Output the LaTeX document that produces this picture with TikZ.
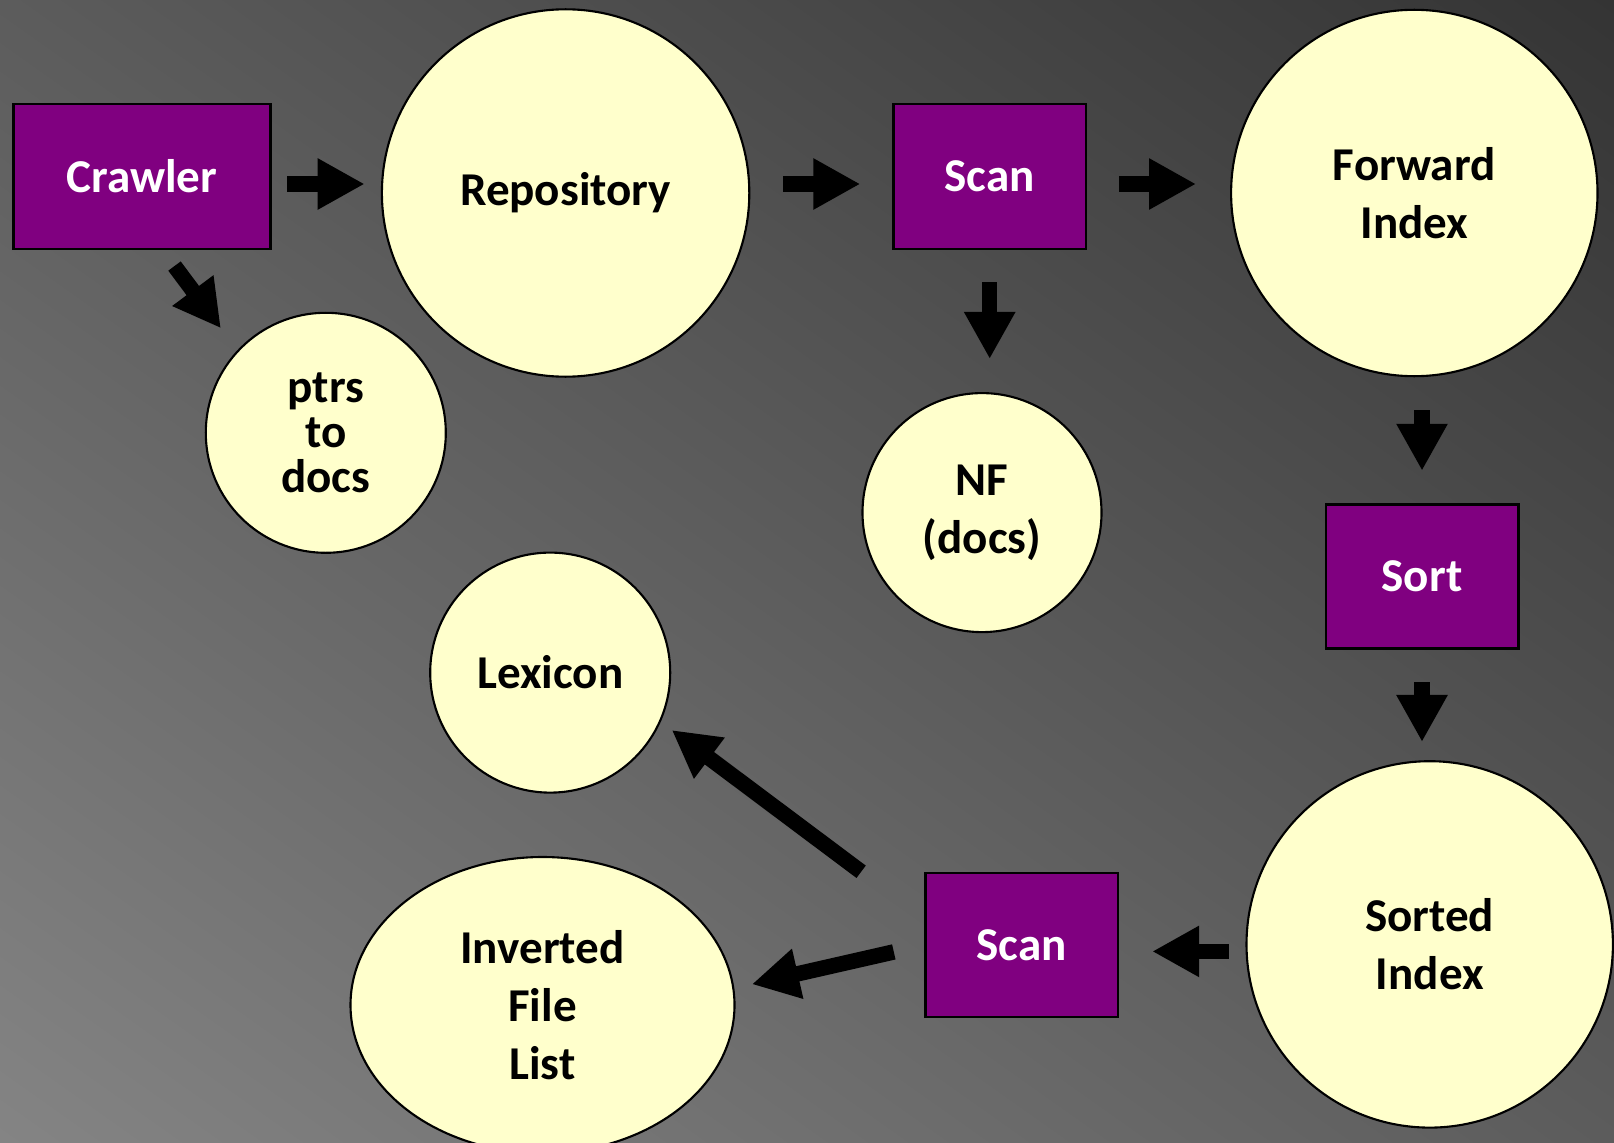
\documentclass[tikz,border=0pt]{standalone}
\usepackage{fontspec}
\setmainfont{Carlito}
\usetikzlibrary{shapes.geometric,arrows.meta,shadings}
\definecolor{boxpurple}{RGB}{128,0,128}
\definecolor{storeyellow}{RGB}{255,255,204}
\definecolor{bgdark}{RGB}{52,52,52}
\definecolor{bgmid}{RGB}{92,92,92}
\definecolor{bglight}{RGB}{132,132,132}

\begin{document}
\begin{tikzpicture}[
	every node/.style={font=\bfseries\fontsize{13.4}{16.4}\selectfont, align=center, inner sep=0pt},
	proc/.style={rectangle, draw=black, line width=0.7pt, fill=boxpurple, text=white, minimum height=1.45cm},
	store/.style={circle, draw=black, line width=0.6pt, fill=storeyellow},
	flow/.style={line width=0.155cm, -{Triangle[width=0.48cm, length=0.47cm]}}
]
	\useasboundingbox (0, 0) rectangle (16.14, 11.42);
	\shade[shading=bilinear interpolation, upper left=bgmid, upper right=bgdark, lower left=bglight, lower right=bgmid] (0, 0) rectangle (16.14, 11.42);
	\clip (0, 0) rectangle (16.14, 11.42);

	\node[proc, minimum width=2.57cm] at (1.42, 9.654) (crawler) {Crawler};
	\node[store, minimum size=3.674cm] at (5.656, 9.49) (repo) {Repository};
	\node[proc, minimum width=1.925cm] at (9.897, 9.654) (scanA) {Scan};
	\node[store, minimum size=3.664cm] at (14.143, 9.49) (fwd) {Forward\\Index};

	\node[store, minimum size=2.4cm, font=\bfseries\fontsize{13.4}{12.9}\selectfont] at (3.258, 7.092) (ptrs) {ptrs\\to\\docs};
	\node[store, minimum size=2.39cm] at (9.82, 6.294) (nf) {NF\\(docs)};
	\node[proc, minimum width=1.925cm, minimum height=1.44cm] at (14.22, 5.656) (sort) {Sort};

	\node[store, minimum size=2.4cm] at (5.502, 4.694) (lexicon) {Lexicon};
	\node[store, minimum size=3.664cm] at (14.297, 1.976) (sorted) {Sorted\\Index};
	\node[proc, minimum width=1.925cm, minimum height=1.44cm] at (10.216, 1.97) (scanB) {Scan};
	\node[store, ellipse, minimum width=3.84cm, minimum height=2.96cm] at (5.425, 1.37) (inverted) {Inverted\\File\\List};

	\draw[flow, shorten <=0.155cm, shorten >=0.162cm] ([yshift=-0.074cm]crawler.east) -- ([yshift=-0.074cm]crawler.east -| repo.west);
	\draw[flow, shorten <=0.327cm, shorten >=0.319cm] ([yshift=-0.074cm]scanA.west -| repo.east) -- ([yshift=-0.074cm]scanA.west);
	\draw[flow, shorten <=0.32cm, shorten >=0.34cm] ([yshift=-0.074cm]scanA.east) -- ([yshift=-0.074cm]scanA.east -| fwd.west);
	\draw[flow, shorten <=0.196cm, shorten >=0.274cm] ([xshift=0.208cm]crawler.south) -- (ptrs.137);
	\draw[flow, shorten <=0.319cm, shorten >=0.331cm] (scanA.south) -- (scanA.south |- nf.north);
	\draw[flow, shorten <=0.328cm, shorten >=0.324cm] (sort.north |- fwd.south) -- (sort.north);
	\draw[flow, shorten <=0.326cm, shorten >=0.182cm] (sort.south) -- (sort.south |- sorted.north);
	\draw[flow, shorten <=0.165cm, shorten >=0.331cm] ([yshift=-0.07cm]sorted.west) -- ([yshift=-0.07cm]sorted.west -| scanB.east);
	\draw[flow, shorten >=0.137cm] ([xshift=-0.63cm]scanB.north west) -- (lexicon.-24);
	\draw[flow, shorten <=0.311cm, shorten >=0.18cm] (scanB.west) -- (inverted.5);

\end{tikzpicture}
\end{document}
